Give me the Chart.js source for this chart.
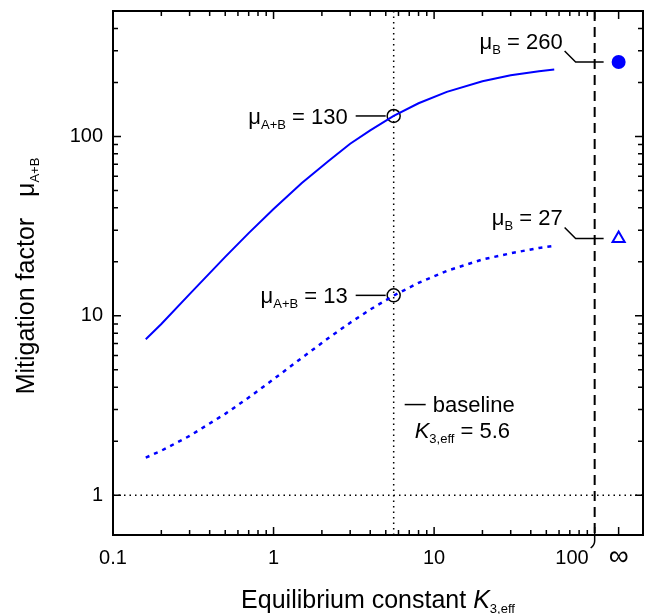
<!DOCTYPE html>
<html>
<head>
<meta charset="utf-8">
<script src="https://cdn.jsdelivr.net/npm/chart.js@4.4.1/dist/chart.umd.min.js"></script>
<style>
html, body { margin: 0; padding: 0; background: #fff; overflow: hidden; }
canvas { display: block; }
</style>
</head>
<body>
<canvas id="chart" width="645" height="614"></canvas>
<script>
// values
const kValues    = [0.16, 0.2, 0.3, 0.5, 0.7, 1, 1.5, 2.2, 3, 4, 5.6, 8, 12, 20, 30, 45, 56];
const muHigh     = [7.4, 9.0, 13.2, 21.3, 28.9, 39.4, 55, 73, 91, 108, 130, 153, 177, 203, 219, 231, 236];
const muLow      = [1.62, 1.77, 2.14, 2.84, 3.5, 4.43, 5.83, 7.52, 9.15, 10.84, 12.96, 15.27, 17.8, 20.6, 22.3, 23.9, 24.5];
const kBaseline  = 5.6;
const muBaseline = [130, 13];
const kInfinity  = 141;          // where the "∞" column sits on the log axis
const muB        = [260, 27];
const xBreak     = 100;
const xTickLabels = [0.1, 1, 10, 100];
const yTickLabels = [1, 10, 100];

const FONT = '"Liberation Sans", Arial, Helvetica, sans-serif';
const BLUE = '#0000ff';

function toPts(xs, ys) { return xs.map((x, i) => ({ x: x, y: ys[i] })); }

// draw a run of text pieces (normal / subscript / italic)
function drawRich(ctx, parts, x, y, align) {
    let w = 0;
    parts.forEach(p => {
        ctx.font = (p.italic ? 'italic ' : '') + p.size + 'px ' + FONT;
        p.w = ctx.measureText(p.t).width;
        w += p.w;
    });
    let cx = align === 'right' ? x - w : (align === 'center' ? x - w / 2 : x);
    ctx.textAlign = 'left';
    ctx.textBaseline = 'alphabetic';
    parts.forEach(p => {
        ctx.font = (p.italic ? 'italic ' : '') + p.size + 'px ' + FONT;
        ctx.fillText(p.t, cx, y + (p.dy || 0));
        cx += p.w;
    });
    return w;
}

function muLabel(sub, value) {
    return [
        { t: '\u03bc', size: 22 },
        { t: sub, size: 13, dy: 5 },
        { t: ' = ' + value, size: 22 }
    ];
}

const framePlugin = {
    id: 'frame',
    beforeDatasetsDraw(chart) {
        const { ctx, chartArea: a, scales: { x, y } } = chart;
        ctx.save();
        ctx.strokeStyle = '#000';
        // dotted guides
        ctx.lineWidth = 1.5;
        ctx.setLineDash([1.5, 4]);
        const xb = x.getPixelForValue(kBaseline);
        ctx.beginPath(); ctx.moveTo(xb, a.top); ctx.lineTo(xb, a.bottom); ctx.stroke();
        const y1 = y.getPixelForValue(1);
        ctx.beginPath(); ctx.moveTo(a.left, y1); ctx.lineTo(a.right, y1); ctx.stroke();
        // dashed axis break
        ctx.lineWidth = 2;
        ctx.setLineDash([10, 6]);
        const xk = x.getPixelForValue(xBreak);
        ctx.beginPath(); ctx.moveTo(xk, a.top); ctx.lineTo(xk, a.bottom); ctx.stroke();
        ctx.restore();
    },
    afterDatasetsDraw(chart) {
        const { ctx, chartArea: a, scales: { x, y } } = chart;
        ctx.save();
        ctx.strokeStyle = '#000';
        ctx.fillStyle = '#000';
        ctx.lineWidth = 1.5;

        // ticks, inward on all four sides
        const xMinor = [], yMinor = [];
        [0.1, 1, 10].forEach(d => { for (let m = 2; m <= 9; m++) xMinor.push(m * d); });
        [1, 10, 100].forEach(d => { for (let m = 2; m <= 9; m++) if (m * d < 500) yMinor.push(m * d); });
        const xMajor = xTickLabels.concat([kInfinity]);
        ctx.beginPath();
        xMajor.forEach(v => {
            const p = x.getPixelForValue(v);
            ctx.moveTo(p, a.bottom); ctx.lineTo(p, a.bottom - 8);
            ctx.moveTo(p, a.top); ctx.lineTo(p, a.top + 8);
        });
        xMinor.forEach(v => {
            const p = x.getPixelForValue(v);
            ctx.moveTo(p, a.bottom); ctx.lineTo(p, a.bottom - 5);
            ctx.moveTo(p, a.top); ctx.lineTo(p, a.top + 5);
        });
        yTickLabels.forEach(v => {
            const p = y.getPixelForValue(v);
            ctx.moveTo(a.left, p); ctx.lineTo(a.left + 8, p);
            ctx.moveTo(a.right, p); ctx.lineTo(a.right - 8, p);
        });
        yMinor.forEach(v => {
            const p = y.getPixelForValue(v);
            ctx.moveTo(a.left, p); ctx.lineTo(a.left + 5, p);
            ctx.moveTo(a.right, p); ctx.lineTo(a.right - 5, p);
        });
        ctx.stroke();

        // frame
        ctx.lineWidth = 2;
        ctx.strokeRect(a.left, a.top, a.right - a.left, a.bottom - a.top);

        // break mark under the axis
        const xk = x.getPixelForValue(xBreak);
        ctx.lineWidth = 1.5;
        ctx.beginPath();
        ctx.moveTo(xk, a.bottom);
        ctx.lineTo(xk, a.bottom + 6);
        ctx.quadraticCurveTo(xk, a.bottom + 10, xk - 4, a.bottom + 13);
        ctx.stroke();

        // tick labels
        ctx.font = '20px ' + FONT;
        ctx.textBaseline = 'middle';
        ctx.textAlign = 'center';
        const ly = a.bottom + 23;
        ['0.1', '1', '10'].forEach((t, i) => ctx.fillText(t, x.getPixelForValue(xTickLabels[i]), ly));
        ctx.textAlign = 'right';
        ctx.fillText('100', xk - 6, ly);
        ctx.textAlign = 'center';
        ctx.font = '28px ' + FONT;
        ctx.fillText('\u221e', x.getPixelForValue(kInfinity), ly - 1);
        ctx.font = '20px ' + FONT;
        ctx.textAlign = 'right';
        yTickLabels.forEach(v => ctx.fillText(String(v), a.left - 10, y.getPixelForValue(v)));

        // axis titles
        drawRich(ctx, [
            { t: 'Equilibrium constant ', size: 25 },
            { t: 'K', size: 25, italic: true },
            { t: '3,eff', size: 13, dy: 5 }
        ], (a.left + a.right) / 2, a.bottom + 73, 'center');
        ctx.save();
        ctx.translate(34, (a.top + a.bottom) / 2 + 3);
        ctx.rotate(-Math.PI / 2);
        drawRich(ctx, [
            { t: 'Mitigation factor   ', size: 25 },
            { t: '\u03bc', size: 25 },
            { t: 'A+B', size: 13, dy: 5 }
        ], 0, 0, 'center');
        ctx.restore();

        // baseline circle labels
        ctx.lineWidth = 1.5;
        muBaseline.forEach(v => {
            const px = x.getPixelForValue(kBaseline), py = y.getPixelForValue(v);
            ctx.beginPath(); ctx.moveTo(px - 38, py); ctx.lineTo(px - 8, py); ctx.stroke();
            drawRich(ctx, muLabel('A+B', v), px - 46, py + 8, 'right');
        });

        // ∞ column labels
        muB.forEach(v => {
            const px = x.getPixelForValue(kInfinity), py = y.getPixelForValue(v);
            ctx.beginPath();
            ctx.moveTo(px - 15, py); ctx.lineTo(px - 43, py); ctx.lineTo(px - 54, py - 11);
            ctx.stroke();
            drawRich(ctx, muLabel('B', v), px - 56, py - 13, 'right');
        });

        // baseline note
        const xb = x.getPixelForValue(kBaseline);
        const yn = y.getPixelForValue(3.2);
        ctx.beginPath(); ctx.moveTo(xb + 11, yn); ctx.lineTo(xb + 32, yn); ctx.stroke();
        drawRich(ctx, [{ t: 'baseline', size: 22 }], xb + 39, yn + 7, 'left');
        drawRich(ctx, [
            { t: 'K', size: 22, italic: true },
            { t: '3,eff', size: 13, dy: 5 },
            { t: ' = 5.6', size: 22 }
        ], xb + 21, yn + 33, 'left');
        ctx.restore();
    }
};

new Chart(document.getElementById('chart'), {
    type: 'line',
    data: {
        datasets: [{
            data: toPts(kValues, muHigh),
            borderColor: BLUE,
            borderWidth: 2,
            pointRadius: 0,
            tension: 0
        }, {
            data: toPts(kValues, muLow),
            borderColor: BLUE,
            borderWidth: 2.5,
            borderDash: [4, 5],
            pointRadius: 0,
            tension: 0
        }, {
            data: toPts([kBaseline, kBaseline], muBaseline),
            showLine: false,
            pointRadius: 6.5,
            pointBorderWidth: 1.5,
            pointBorderColor: '#000',
            pointBackgroundColor: 'rgba(0,0,0,0)'
        }, {
            data: [{ x: kInfinity, y: muB[0] }],
            showLine: false,
            pointRadius: 7,
            pointBorderWidth: 0,
            pointBackgroundColor: BLUE
        }, {
            data: [{ x: kInfinity, y: muB[1] }],
            showLine: false,
            pointStyle: 'triangle',
            pointRadius: 7,
            pointBorderWidth: 2,
            pointBorderColor: BLUE,
            pointBackgroundColor: '#fff'
        }]
    },
    options: {
        responsive: false,
        animation: false,
        layout: { autoPadding: false, padding: { left: 113, right: 2, top: 11, bottom: 79 } },
        plugins: { legend: { display: false }, tooltip: { enabled: false } },
        scales: {
            x: { type: 'logarithmic', min: 0.1, max: 200, display: false },
            y: { type: 'logarithmic', min: 0.6, max: 500, display: false }
        }
    },
    plugins: [framePlugin]
});
</script>
</body>
</html>
